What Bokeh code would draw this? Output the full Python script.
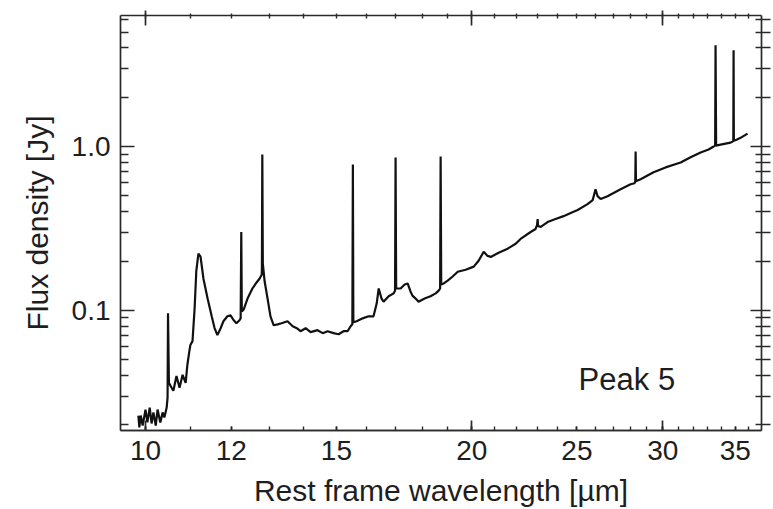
from bokeh.plotting import figure
from bokeh.models import LogAxis, FixedTicker, CustomJSTickFormatter, Label, Range1d, ColumnDataSource
from bokeh.embed import file_html
from bokeh.resources import INLINE

# ---- data (rest-frame wavelength in micron, flux density in Jy)
wavelength = [
    9.85, 9.87, 9.90, 9.94, 10.00, 10.04, 10.09, 10.13, 10.17, 10.22, 10.26, 10.32, 10.37, 10.41, 10.46,
    10.48, 10.49, 10.51, 10.57, 10.61, 10.68, 10.75, 10.82, 10.89, 10.93, 10.98, 11.00, 11.05, 11.10,
    11.14, 11.19, 11.24, 11.31, 11.41, 11.51, 11.58, 11.65, 11.73, 11.80, 11.90, 11.98, 12.06, 12.13,
    12.21, 12.24, 12.256, 12.27, 12.32, 12.42, 12.55, 12.66, 12.74, 12.80, 12.805, 12.816, 12.83, 12.88,
    12.96, 13.04, 13.13, 13.24, 13.35, 13.52, 13.67, 13.79, 13.90, 14.05, 14.20, 14.41, 14.57, 14.72,
    14.91, 15.07, 15.23, 15.36, 15.46, 15.517, 15.534, 15.55, 15.66, 15.86, 16.06, 16.23, 16.34, 16.41,
    16.51, 16.58, 16.76, 16.94, 16.99, 17.009, 17.03, 17.19, 17.34, 17.45, 17.56, 17.63, 17.75, 17.86,
    18.09, 18.32, 18.52, 18.64, 18.697, 18.717, 18.74, 18.84, 19.00, 19.20, 19.41, 19.74, 20.08, 20.29,
    20.51, 20.68, 20.82, 21.17, 21.58, 21.95, 22.18, 22.66, 22.90, 22.97, 23.00, 23.02, 23.15, 23.49,
    23.89, 24.30, 24.67, 25.04, 25.57, 25.85, 26.01, 26.12, 26.29, 26.68, 27.43, 28.02, 28.26, 28.30,
    28.32, 28.34, 28.62, 29.42, 30.18, 31.16, 31.83, 32.51, 33.07, 33.42, 33.53, 33.56, 33.60, 33.92,
    34.28, 34.65, 34.80, 34.85, 34.87, 34.89, 35.09, 35.39, 35.92,
]
flux = [
    0.0228, 0.0193, 0.0228, 0.0198, 0.0248, 0.0207, 0.0255, 0.0204, 0.0238, 0.0198, 0.0248, 0.0207, 0.0238, 0.0222, 0.0255,
    0.0293, 0.0959, 0.0361, 0.0337, 0.0323, 0.0398, 0.0337, 0.0404, 0.0361, 0.0464, 0.0572, 0.0614, 0.0649, 0.103,
    0.175, 0.222, 0.213, 0.156, 0.118, 0.092, 0.078, 0.0706, 0.0778, 0.0858, 0.0920, 0.0933, 0.0870, 0.0834,
    0.0870, 0.0894, 0.301, 0.0986, 0.1014, 0.118, 0.136, 0.148, 0.156, 0.165, 0.180, 0.894, 0.193, 0.150,
    0.118, 0.092, 0.0811, 0.0822, 0.0834, 0.0858, 0.0800, 0.0778, 0.0746, 0.0778, 0.0736, 0.0757, 0.0726, 0.0746,
    0.0726, 0.0715, 0.0746, 0.0746, 0.0800, 0.0822, 0.778, 0.0846, 0.0858, 0.0894, 0.0920, 0.0920, 0.110, 0.136,
    0.118, 0.113, 0.122, 0.127, 0.132, 0.858, 0.136, 0.136, 0.144, 0.146, 0.130, 0.123, 0.118, 0.113,
    0.118, 0.122, 0.127, 0.132, 0.136, 0.870, 0.144, 0.146, 0.152, 0.161, 0.172, 0.177, 0.185, 0.201,
    0.228, 0.215, 0.212, 0.225, 0.238, 0.255, 0.273, 0.301, 0.314, 0.332, 0.361, 0.328, 0.323, 0.346,
    0.361, 0.376, 0.393, 0.410, 0.445, 0.471, 0.549, 0.498, 0.478, 0.498, 0.549, 0.589, 0.597, 0.614,
    0.933, 0.614, 0.631, 0.696, 0.746, 0.800, 0.860, 0.920, 0.959, 1.000, 1.014, 4.15, 1.014, 1.028,
    1.043, 1.057, 1.072, 1.087, 3.87, 1.087, 1.10, 1.13, 1.20,
]

x_tick_labels = [10, 12, 15, 20, 25, 30, 35]
x_long_ticks = [10, 20, 30]
x_minor_ticks = list(range(10, 37))
y_major_ticks = [0.1, 1.0]
y_minor_ticks = [0.02, 0.03, 0.04, 0.05, 0.06, 0.07, 0.08, 0.09,
                 0.2, 0.3, 0.4, 0.5, 0.6, 0.7, 0.8, 0.9, 2, 3, 4, 5, 6]
x_label = "Rest frame wavelength [µm]"
y_label = "Flux density [Jy]"
panel_text = "Peak 5"

FONT = "Liberation Sans"
AX = "#2a2a2a"
TXT = "#1e1e1e"

p = figure(width=773, height=509, x_axis_type="log", y_axis_type="log",
           x_axis_location=None, y_axis_location=None,
           x_range=Range1d(9.483, 37.0), y_range=Range1d(0.01848, 6.31),
           output_backend="svg", toolbar_location=None,
           min_border_left=120, min_border_right=12, min_border_top=15, min_border_bottom=76)
p.grid.visible = False
p.outline_line_color = None
p.background_fill_color = "white"
p.border_fill_color = "white"


def style(ax, label_size="30px"):
    ax.axis_line_color = AX
    ax.axis_line_width = 1.7
    ax.major_tick_line_color = AX
    ax.major_tick_line_width = 1.7
    ax.minor_tick_line_color = AX
    ax.minor_tick_line_width = 1.4
    ax.major_label_text_font = FONT
    ax.major_label_text_font_size = "28px"
    ax.major_label_text_color = TXT
    ax.axis_label_text_font = FONT
    ax.axis_label_text_font_size = label_size
    ax.axis_label_text_font_style = "normal"
    ax.axis_label_text_color = TXT
    return ax


# bottom: long ticks only (zero size), then labelled axis
bottom_long = style(LogAxis(ticker=FixedTicker(ticks=x_long_ticks, minor_ticks=[]),
                            major_tick_in=10, major_tick_out=0, minor_tick_in=0, minor_tick_out=0,
                            major_label_standoff=0))
bottom_long.major_label_text_color = None
p.add_layout(bottom_long, "below")

bottom = style(LogAxis(ticker=FixedTicker(ticks=x_tick_labels, minor_ticks=x_minor_ticks),
                       major_tick_in=4, major_tick_out=0, minor_tick_in=4, minor_tick_out=0,
                       major_label_standoff=10, axis_label=x_label, axis_label_standoff=11,
                       formatter=CustomJSTickFormatter(code="return tick.toFixed(0)")))
p.add_layout(bottom, "below")

top = style(LogAxis(ticker=FixedTicker(ticks=x_long_ticks, minor_ticks=x_minor_ticks),
                    major_tick_in=10, major_tick_out=5, minor_tick_in=3, minor_tick_out=2,
                    major_label_standoff=0))
top.major_label_text_color = None
p.add_layout(top, "above")

left = style(LogAxis(ticker=FixedTicker(ticks=y_major_ticks, minor_ticks=y_minor_ticks),
                     major_tick_in=14, major_tick_out=0, minor_tick_in=8, minor_tick_out=0,
                     major_label_standoff=10, axis_label=y_label, axis_label_standoff=15,
                     formatter=CustomJSTickFormatter(code="return tick.toFixed(1)")))
p.add_layout(left, "left")

right = style(LogAxis(ticker=FixedTicker(ticks=y_major_ticks, minor_ticks=y_minor_ticks),
                      major_tick_in=11, major_tick_out=9, minor_tick_in=6, minor_tick_out=9,
                      major_label_standoff=0))
right.major_label_text_color = None
p.add_layout(right, "right")

src = ColumnDataSource(data=dict(x=wavelength, y=flux))
p.line("x", "y", source=src, line_color="#111111", line_width=2.2)

p.add_layout(Label(x=25.09, y=0.03765, text=panel_text, text_font=FONT, text_font_size="31px",
                   text_color=TXT, text_baseline="alphabetic", text_align="left"))

open("out.html", "w").write(file_html(p, INLINE))
